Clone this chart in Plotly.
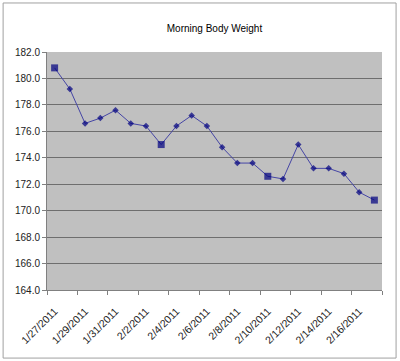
import plotly.graph_objects as go

dates = ["1/27/2011", "1/28/2011", "1/29/2011", "1/30/2011", "1/31/2011", "2/1/2011",
         "2/2/2011", "2/3/2011", "2/4/2011", "2/5/2011", "2/6/2011", "2/7/2011",
         "2/8/2011", "2/9/2011", "2/10/2011", "2/11/2011", "2/12/2011", "2/13/2011",
         "2/14/2011", "2/15/2011", "2/16/2011", "2/17/2011"]
weights = [180.8, 179.2, 176.6, 177.0, 177.6, 176.6, 176.4, 175.0, 176.4, 177.2, 176.4,
           174.8, 173.6, 173.6, 172.6, 172.4, 175.0, 173.2, 173.2, 172.8, 171.4, 170.8]
weekly = [i % 7 == 0 for i in range(len(dates))]

symbols = ["square" if w else "diamond" for w in weekly]
sizes = [7 if w else 5 for w in weekly]

fig = go.Figure()
fig.add_trace(go.Scatter(
    x=dates, y=weights, mode="lines+markers",
    line=dict(color="#4545a5", width=1),
    marker=dict(symbol=symbols, size=sizes, color="#000080", line=dict(width=0)),
    showlegend=False,
))

fig.update_layout(
    width=400, height=361,
    margin=dict(l=47, r=18, t=52, b=71, autoexpand=False),
    paper_bgcolor="white",
    plot_bgcolor="#c0c0c0",
    font=dict(family="Liberation Sans, Arial, sans-serif", size=10, color="black"),
    title=dict(text="Morning Body Weight", x=0.5, xanchor="center",
               xref="paper", y=1 - 28 / 361, yanchor="middle", yref="container",
               font=dict(size=10, family="Liberation Sans, Arial, sans-serif")),
    shapes=[dict(type="rect", xref="paper", yref="paper",
                 x0=-0.131, x1=1.042, y0=-0.286, y1=1.206,
                 line=dict(color="#a0a0a0", width=1), layer="below")],
)
fig.update_xaxes(
    type="category", range=[-0.5, len(dates) - 0.5],
    tickmode="linear", dtick=2, tickson="boundaries",
    tickangle=-45, ticks="outside", ticklen=4, tickcolor="#808080",
    ticklabelstandoff=10,
    showline=True, linecolor="#808080", linewidth=1,
    showgrid=False, zeroline=False, automargin=False,
    tickfont=dict(size=10.5, color="#222222"),
)
fig.update_yaxes(
    range=[164, 182], dtick=2, tickformat=".1f",
    ticks="outside", ticklen=4, tickcolor="#808080",
    showline=True, linecolor="#808080", linewidth=1,
    showgrid=True, gridcolor="#6e6e6e", gridwidth=1,
    zeroline=False, automargin=False, tickfont=dict(size=10, color="#222222"),
)

fig.write_html("out.html", config={"displayModeBar": False},
               post_script="document.body.style.margin='0';")
